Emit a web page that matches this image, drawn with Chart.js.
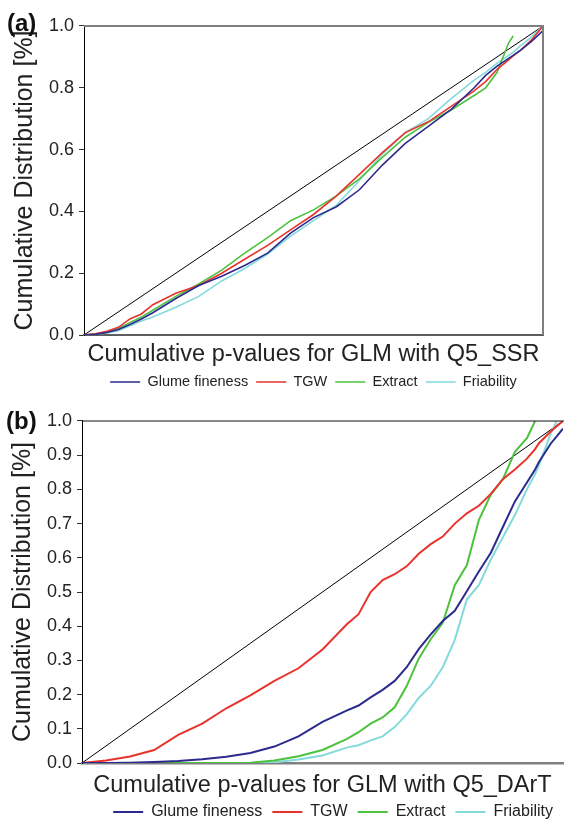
<!DOCTYPE html>
<html><head><meta charset="utf-8">
<script src="https://cdn.jsdelivr.net/npm/chart.js@4/dist/chart.umd.min.js"></script>
<style>
html,body{margin:0;padding:0;width:564px;height:819px;overflow:hidden;background:#fff;}
.wrap{position:absolute;left:0;width:564px;}
#wa{top:0;height:400px;}
#wb{top:395px;height:433px;}
canvas{display:block;}
</style></head><body>
<div class="wrap" id="wa"><canvas id="ca" width="564" height="400"></canvas></div>
<div class="wrap" id="wb"><canvas id="cb" width="564" height="435"></canvas></div>
<script>
// ---------- Panel (a): GLM with Q5_SSR ----------
const aX      = [0, 0.025, 0.05, 0.075, 0.1, 0.125, 0.15, 0.2, 0.25, 0.3, 0.35, 0.4, 0.45, 0.5, 0.55, 0.6, 0.65, 0.7, 0.75, 0.8, 0.85, 0.875, 0.9, 0.925, 0.935, 0.95, 0.975, 1.0];
const aGlume  = [0, 0.002, 0.008, 0.018, 0.034, 0.052, 0.072, 0.118, 0.16, 0.19, 0.225, 0.265, 0.33, 0.38, 0.415, 0.47, 0.55, 0.62, 0.675, 0.73, 0.80, 0.84, 0.87, 0.895, 0.905, 0.92, 0.95, 0.985];
const aTGW    = [0, 0.004, 0.012, 0.025, 0.052, 0.068, 0.098, 0.135, 0.16, 0.20, 0.245, 0.29, 0.34, 0.39, 0.45, 0.52, 0.59, 0.655, 0.69, 0.74, 0.79, 0.82, 0.86, 0.89, 0.903, 0.92, 0.955, 1.0];
const aExtract= [0, 0.003, 0.010, 0.021, 0.040, 0.058, 0.080, 0.125, 0.165, 0.21, 0.265, 0.315, 0.37, 0.405, 0.45, 0.505, 0.575, 0.64, 0.688, 0.728, 0.775, 0.80, 0.85, 0.945, 0.968, null, null, null];
const aFriab  = [0, 0.002, 0.007, 0.014, 0.030, 0.045, 0.058, 0.09, 0.125, 0.175, 0.215, 0.262, 0.32, 0.37, 0.42, 0.50, 0.585, 0.655, 0.70, 0.765, 0.825, 0.85, 0.88, 0.905, 0.915, 0.935, 0.965, 1.0];
const aTicks  = [0, 0.2, 0.4, 0.6, 0.8, 1.0];

// ---------- Panel (b): GLM with Q5_DArT ----------
const bX      = [0, 0.05, 0.1, 0.15, 0.2, 0.25, 0.3, 0.35, 0.4, 0.45, 0.5, 0.55, 0.575, 0.6, 0.625, 0.65, 0.675, 0.7, 0.725, 0.75, 0.775, 0.8, 0.825, 0.85, 0.875, 0.9, 0.925, 0.942, 0.95, 0.975, 0.987, 1.0];
const bGlume  = [0, 0, 0.001, 0.003, 0.006, 0.011, 0.018, 0.029, 0.048, 0.078, 0.12, 0.153, 0.168, 0.192, 0.214, 0.24, 0.28, 0.333, 0.376, 0.415, 0.445, 0.502, 0.56, 0.615, 0.69, 0.765, 0.82, 0.858, 0.88, 0.935, 0.955, 0.978];
const bTGW    = [0, 0.007, 0.019, 0.038, 0.082, 0.115, 0.16, 0.198, 0.24, 0.277, 0.332, 0.405, 0.435, 0.50, 0.535, 0.552, 0.575, 0.612, 0.64, 0.662, 0.70, 0.73, 0.752, 0.787, 0.83, 0.858, 0.89, 0.918, 0.935, 0.97, 0.985, 1.0];
const bExtract= [0, 0, 0, 0, 0, 0, 0, 0.001, 0.007, 0.02, 0.038, 0.07, 0.09, 0.115, 0.133, 0.163, 0.225, 0.305, 0.362, 0.41, 0.52, 0.578, 0.71, 0.785, 0.83, 0.91, 0.95, 1.0, null, null, null, null];
const bFriab  = [0, 0, 0, 0, 0, 0, 0, 0, 0.002, 0.01, 0.022, 0.045, 0.052, 0.066, 0.078, 0.105, 0.142, 0.19, 0.226, 0.28, 0.36, 0.478, 0.52, 0.595, 0.66, 0.725, 0.80, 0.845, 0.87, 0.965, 1.0, null];
const bTicks  = [0, 0.1, 0.2, 0.3, 0.4, 0.5, 0.6, 0.7, 0.8, 0.9, 1.0];

const seriesNames = ['Glume fineness', 'TGW', 'Extract', 'Friability'];
const seriesColors = ['#2c2a8e', '#e8332c', '#4cc23e', '#84dada'];
const diagX = [0, 1];
const diagY = [0, 1];

Chart.defaults.font.family = '"Liberation Sans", Arial, Helvetica, sans-serif';
Chart.defaults.color = '#222';

function pts(xs, ys) { return xs.map((x, i) => ({x: x, y: ys[i]})); }

const framePlugin = {
  id: 'frame',
  afterDatasetsDraw(chart, args, opts) {
    const {ctx, chartArea} = chart;
    const {left, right, top, bottom} = chartArea;
    ctx.save();
    if (opts.top) {
      ctx.strokeStyle = opts.top.color; ctx.lineWidth = opts.top.width;
      ctx.beginPath(); ctx.moveTo(left, top); ctx.lineTo(opts.top.toEdge ? chart.width : right + opts.top.width / 2, top); ctx.stroke();
    }
    if (opts.right) {
      ctx.strokeStyle = opts.right.color; ctx.lineWidth = opts.right.width;
      ctx.beginPath(); ctx.moveTo(right, top - 1); ctx.lineTo(right, bottom); ctx.stroke();
    }
    ctx.restore();
  }
};

function makePanel(canvasId, p) {
  const ys = [p.glume, p.tgw, p.extract, p.friab];
  const datasets = ys.map((arr, i) => ({
    label: seriesNames[i],
    data: pts(p.x, arr),
    borderColor: seriesColors[i],
    backgroundColor: seriesColors[i],
    borderWidth: p.lw,
    pointRadius: 0,
    tension: 0,
    spanGaps: false
  }));
  datasets.push({
    label: 'diag',
    data: pts(diagX, diagY),
    borderColor: '#000',
    backgroundColor: '#000',
    borderWidth: 1,
    pointRadius: 0,
    tension: 0
  });
  return new Chart(document.getElementById(canvasId), {
    type: 'line',
    data: {datasets},
    plugins: [framePlugin],
    options: {
      responsive: false,
      animation: false,
      events: [],
      layout: {padding: p.pad},
      plugins: {
        tooltip: {enabled: false},
        frame: p.frame,
        title: {
          display: true, text: p.tag, align: 'start', color: '#111',
          font: {size: 24, weight: 'bold'},
          padding: p.tagPad
        },
        legend: {
          display: true, position: 'bottom', fullSize: false, align: p.legendAlign,
          labels: {
            boxWidth: 30, boxHeight: 0, padding: p.legendPad, color: '#222',
            font: {size: p.legendFont},
            filter: (item) => item.datasetIndex < 4
          }
        }
      },
      scales: {
        x: {
          type: 'linear', min: 0, max: 1,
          ticks: {display: false},
          grid: {display: false, drawTicks: false},
          border: {display: true, color: p.bottomColor, width: p.bottomWidth},
          title: {display: true, text: p.xTitle, color: '#222',
                  font: {size: 23.5, lineHeight: 1.2}, padding: p.xTitlePad}
        },
        y: {
          type: 'linear', min: 0, max: 1,
          afterBuildTicks: (scale) => { scale.ticks = p.ticks.map(v => ({value: v})); },
          afterFit: (scale) => { scale.width = p.yWidth; },
          ticks: {stepSize: p.step, autoSkip: false, padding: 5, color: '#222',
                  font: {size: 18}, callback: (v) => Number(v).toFixed(1)},
          grid: {display: true, drawOnChartArea: false, drawTicks: true, tickLength: 5, color: '#333'},
          border: {display: true, color: '#000', width: 1},
          title: {display: true, text: 'Cumulative Distribution [%]', color: '#222',
                  font: {size: 25, lineHeight: 1.2}, padding: {top: p.yTitlePad, bottom: 0}}
        }
      }
    }
  });
}

makePanel('ca', {
  x: aX, glume: aGlume, tgw: aTGW, extract: aExtract, friab: aFriab,
  ticks: aTicks, step: 0.2, lw: 1.6, tag: '(a)',
  tagPad: {top: 9.6, bottom: -12.4},
  pad: {left: 7, right: 21, top: 0, bottom: 0.75},
  yWidth: 77, yTitlePad: 3,
  xTitle: 'Cumulative p-values for GLM with Q5_SSR',
  xTitlePad: {top: 5.9, bottom: -2.35},
  legendAlign: 'center', legendPad: 8, legendFont: 14.5,
  bottomColor: '#5e5e5e', bottomWidth: 2,
  frame: {top: {color: '#7f7f7f', width: 2}, right: {color: '#7f7f7f', width: 2}}
});

makePanel('cb', {
  x: bX, glume: bGlume, tgw: bTGW, extract: bExtract, friab: bFriab,
  ticks: bTicks, step: 0.1, lw: 2, tag: '(b)',
  tagPad: {top: 12.6, bottom: -15.4},
  pad: {left: 6, right: 1, top: 0, bottom: 0},
  yWidth: 76, yTitlePad: 2,
  xTitle: 'Cumulative p-values for GLM with Q5_DArT',
  xTitlePad: {top: 8.9, bottom: -6.1},
  legendAlign: 'end', legendPad: 10, legendFont: 16,
  bottomColor: '#808080', bottomWidth: 2.5,
  frame: {top: {color: '#111', width: 1, toEdge: true}}
});
</script>
</body></html>
